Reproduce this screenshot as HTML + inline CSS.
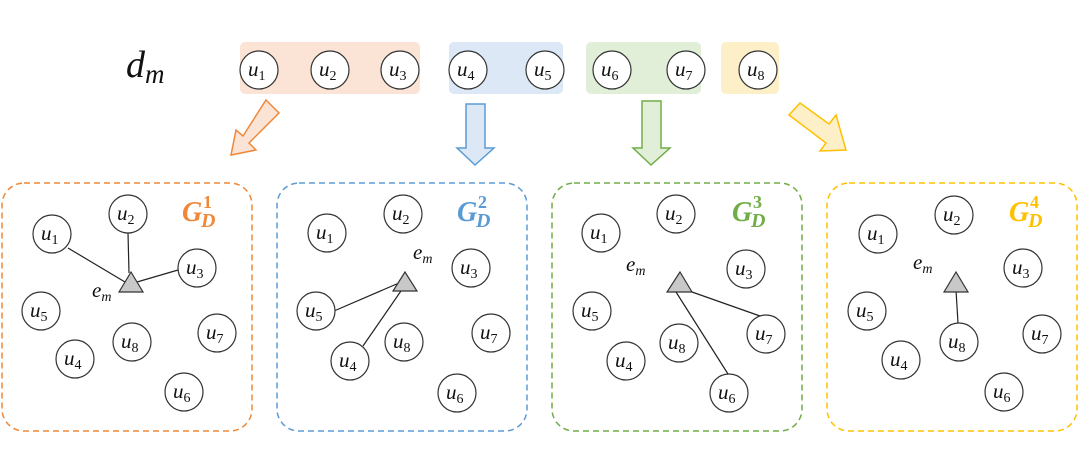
<!DOCTYPE html>
<html><head><meta charset="utf-8"><style>
html,body{margin:0;padding:0;background:#fff}
svg{display:block}
text{font-family:"Liberation Serif",serif;font-style:italic;fill:#111}
.n{font-size:21px}
.s{font-size:14px;font-style:normal}
.si{font-size:14px;font-style:italic}
.g{font-family:"Liberation Serif",serif;font-weight:bold;font-style:italic;font-size:28px}
</style></head><body>
<svg width="1080" height="468" viewBox="0 0 1080 468" xmlns="http://www.w3.org/2000/svg">
<!-- top -->
<text x="126" y="77" style="font-size:38px">d<tspan dy="6" style="font-size:27px">m</tspan></text>
<rect x="240" y="42" width="180" height="52" rx="5" fill="#fbe3d5"/>
<rect x="449" y="42" width="114" height="52" rx="5" fill="#dce8f5"/>
<rect x="586" y="42" width="115" height="52" rx="5" fill="#e1eed8"/>
<rect x="721" y="42" width="58" height="52" rx="5" fill="#fdf0c9"/>
<g fill="#fff" stroke="#333" stroke-width="1.2">
<circle cx="259" cy="70" r="19"/><circle cx="330" cy="70" r="19"/><circle cx="400" cy="70" r="19"/><circle cx="468" cy="70" r="19"/><circle cx="545" cy="70" r="19"/><circle cx="612" cy="70" r="19"/><circle cx="686" cy="70" r="19"/><circle cx="758" cy="70" r="19"/>
</g>
<g class="n">
<text x="248" y="76">u<tspan class="s" dy="4">1</tspan></text>
<text x="319" y="76">u<tspan class="s" dy="4">2</tspan></text>
<text x="389" y="76">u<tspan class="s" dy="4">3</tspan></text>
<text x="457" y="76">u<tspan class="s" dy="4">4</tspan></text>
<text x="534" y="76">u<tspan class="s" dy="4">5</tspan></text>
<text x="601" y="76">u<tspan class="s" dy="4">6</tspan></text>
<text x="675" y="76">u<tspan class="s" dy="4">7</tspan></text>
<text x="747" y="76">u<tspan class="s" dy="4">8</tspan></text>
</g>
<!-- arrows -->
<polygon points="266,100 279,113 249,143 256,150 231,155 236,130 243,136" fill="#fbe3d5" stroke="#ef8838" stroke-width="1.5"/>
<polygon points="466,104 485,104 485,148 494,148 475,165 457,148 466,148" fill="#dce8f5" stroke="#5b9bd5" stroke-width="1.5"/>
<polygon points="642,101 661,101 661,148 670,148 651,165 633,148 642,148" fill="#e1eed8" stroke="#70ad47" stroke-width="1.5"/>
<polygon points="789,115 800,103 829,124 836,115 846,150 820,151 826,143" fill="#fdf0c9" stroke="#ffc000" stroke-width="1.5"/>
<!-- boxes -->
<rect x="2" y="183" width="250" height="248" rx="22" fill="none" stroke="#ef8838" stroke-width="1.5" stroke-dasharray="6,4"/>
<rect x="277" y="183" width="250" height="248" rx="22" fill="none" stroke="#5b9bd5" stroke-width="1.5" stroke-dasharray="6,4"/>
<rect x="552" y="183" width="250" height="248" rx="22" fill="none" stroke="#70ad47" stroke-width="1.5" stroke-dasharray="6,4"/>
<rect x="827" y="183" width="250" height="248" rx="22" fill="none" stroke="#ffc000" stroke-width="1.5" stroke-dasharray="6,4"/>
<text class="g" x="182" y="221" style="fill:#ef8838">G</text><text class="g" x="203" y="208" style="fill:#ef8838;font-size:18px;font-style:normal">1</text><text class="g" x="201" y="227" style="fill:#ef8838;font-size:20px">D</text>
<text class="g" x="457" y="221" style="fill:#5b9bd5">G</text><text class="g" x="478" y="208" style="fill:#5b9bd5;font-size:18px;font-style:normal">2</text><text class="g" x="476" y="227" style="fill:#5b9bd5;font-size:20px">D</text>
<text class="g" x="732" y="221" style="fill:#70ad47">G</text><text class="g" x="753" y="208" style="fill:#70ad47;font-size:18px;font-style:normal">3</text><text class="g" x="751" y="227" style="fill:#70ad47;font-size:20px">D</text>
<text class="g" x="1009" y="221" style="fill:#ffc000">G</text><text class="g" x="1030" y="208" style="fill:#ffc000;font-size:18px;font-style:normal">4</text><text class="g" x="1028" y="227" style="fill:#ffc000;font-size:20px">D</text>
<!-- edges -->
<g stroke="#222" stroke-width="1.2">
<line x1="68" y1="248" x2="125" y2="282"/><line x1="128" y1="233" x2="129" y2="273"/><line x1="178" y1="270" x2="137" y2="282"/>
<line x1="334" y1="311" x2="399" y2="283"/><line x1="363" y1="346" x2="403" y2="288"/>
<line x1="692" y1="292" x2="760" y2="316"/><line x1="676" y1="292" x2="728" y2="374"/>
<line x1="958" y1="323" x2="956" y2="290"/>
</g>
<!-- triangles -->
<polygon points="131,272 119,292 143,292" fill="#c8c8c8" stroke="#333" stroke-width="1.2"/>
<polygon points="405,272 393,291 417,291" fill="#c8c8c8" stroke="#333" stroke-width="1.2"/>
<polygon points="680,272 667,292 692,292" fill="#c8c8c8" stroke="#333" stroke-width="1.2"/>
<polygon points="956,272 944,292 968,292" fill="#c8c8c8" stroke="#333" stroke-width="1.2"/>
<text x="92" y="297" style="font-size:21px">e<tspan class="si" dy="4">m</tspan></text>
<text x="413" y="259" style="font-size:21px">e<tspan class="si" dy="4">m</tspan></text>
<text x="626" y="271" style="font-size:21px">e<tspan class="si" dy="4">m</tspan></text>
<text x="913" y="269" style="font-size:21px">e<tspan class="si" dy="4">m</tspan></text>
<!-- nodes -->
<g fill="#fff" stroke="#333" stroke-width="1.2">
<circle cx="52" cy="234" r="19"/><circle cx="128" cy="214" r="19"/><circle cx="197" cy="268" r="19"/><circle cx="41" cy="311" r="19"/><circle cx="75" cy="359" r="19"/><circle cx="132" cy="342" r="19"/><circle cx="217" cy="333" r="19"/><circle cx="184" cy="392" r="19"/>
<circle cx="327" cy="233" r="19"/><circle cx="403" cy="214" r="19"/><circle cx="471" cy="268" r="19"/><circle cx="316" cy="311" r="19"/><circle cx="350" cy="361" r="19"/><circle cx="404" cy="342" r="19"/><circle cx="491" cy="333" r="19"/><circle cx="457" cy="393" r="19"/>
<circle cx="601" cy="233" r="19"/><circle cx="676" cy="214" r="19"/><circle cx="746" cy="269" r="19"/><circle cx="592" cy="311" r="19"/><circle cx="626" cy="361" r="19"/><circle cx="679" cy="343" r="19"/><circle cx="766" cy="334" r="19"/><circle cx="729" cy="393" r="19"/>
<circle cx="878" cy="234" r="19"/><circle cx="954" cy="215" r="19"/><circle cx="1023" cy="268" r="19"/><circle cx="867" cy="311" r="19"/><circle cx="901" cy="360" r="19"/><circle cx="959" cy="342" r="19"/><circle cx="1042" cy="334" r="19"/><circle cx="1004" cy="392" r="19"/>
</g>
<g class="n">
<text x="41" y="240">u<tspan class="s" dy="4">1</tspan></text><text x="117" y="220">u<tspan class="s" dy="4">2</tspan></text><text x="186" y="274">u<tspan class="s" dy="4">3</tspan></text><text x="30" y="317">u<tspan class="s" dy="4">5</tspan></text><text x="64" y="365">u<tspan class="s" dy="4">4</tspan></text><text x="121" y="348">u<tspan class="s" dy="4">8</tspan></text><text x="206" y="339">u<tspan class="s" dy="4">7</tspan></text><text x="173" y="398">u<tspan class="s" dy="4">6</tspan></text>
<text x="316" y="239">u<tspan class="s" dy="4">1</tspan></text><text x="392" y="220">u<tspan class="s" dy="4">2</tspan></text><text x="460" y="274">u<tspan class="s" dy="4">3</tspan></text><text x="305" y="317">u<tspan class="s" dy="4">5</tspan></text><text x="339" y="367">u<tspan class="s" dy="4">4</tspan></text><text x="393" y="348">u<tspan class="s" dy="4">8</tspan></text><text x="480" y="339">u<tspan class="s" dy="4">7</tspan></text><text x="446" y="399">u<tspan class="s" dy="4">6</tspan></text>
<text x="590" y="239">u<tspan class="s" dy="4">1</tspan></text><text x="665" y="220">u<tspan class="s" dy="4">2</tspan></text><text x="735" y="275">u<tspan class="s" dy="4">3</tspan></text><text x="581" y="317">u<tspan class="s" dy="4">5</tspan></text><text x="615" y="367">u<tspan class="s" dy="4">4</tspan></text><text x="668" y="349">u<tspan class="s" dy="4">8</tspan></text><text x="755" y="340">u<tspan class="s" dy="4">7</tspan></text><text x="718" y="399">u<tspan class="s" dy="4">6</tspan></text>
<text x="867" y="240">u<tspan class="s" dy="4">1</tspan></text><text x="943" y="221">u<tspan class="s" dy="4">2</tspan></text><text x="1012" y="274">u<tspan class="s" dy="4">3</tspan></text><text x="856" y="317">u<tspan class="s" dy="4">5</tspan></text><text x="890" y="366">u<tspan class="s" dy="4">4</tspan></text><text x="948" y="348">u<tspan class="s" dy="4">8</tspan></text><text x="1031" y="340">u<tspan class="s" dy="4">7</tspan></text><text x="993" y="398">u<tspan class="s" dy="4">6</tspan></text>
</g>
</svg>
</body></html>
